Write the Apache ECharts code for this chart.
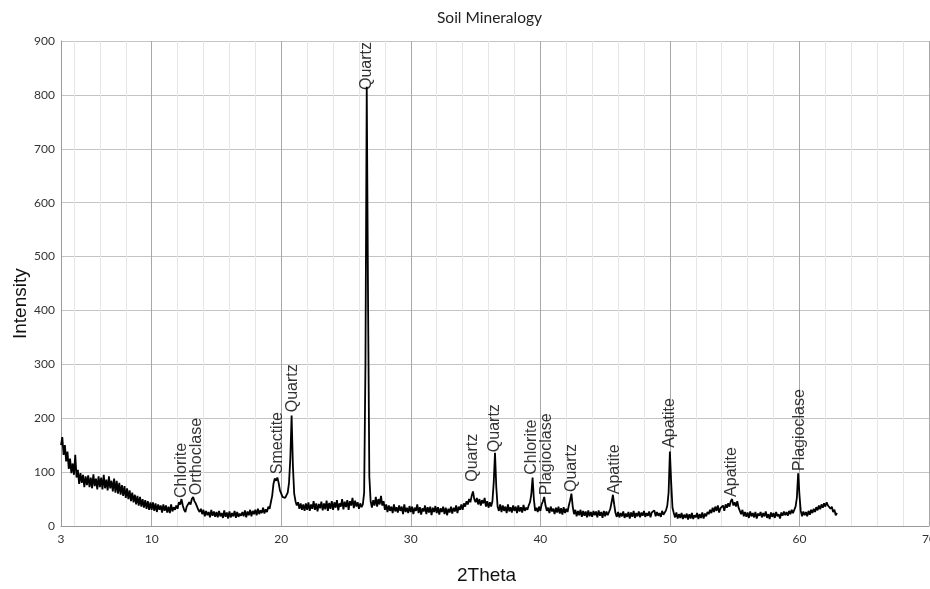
<!DOCTYPE html>
<html>
<head>
<meta charset="utf-8">
<script src="https://cdn.jsdelivr.net/npm/echarts@6/dist/echarts.min.js"></script>
<style>html,body{margin:0;padding:0;background:#fff;}#c{width:930px;height:589px;}</style>
</head>
<body>
<div id="c"></div>
<script>
// 2Theta sampling of the pattern (start, step in degrees)
var twoThetaStart = 3.0;
var twoThetaStep = 0.1;
// Intensity, 0.1 deg apart
var int03to10 = [
  150,165,132,150,120,138,106,125,98,116,
  95,132,90,104,78,98,80,95,72,92,
  76,94,72,90,70,96,74,88,68,92,
  72,90,68,95,70,86,66,92,70,84,
  64,88,62,84,60,80,58,76,56,74,
  52,70,50,66,46,62,44,58,40,56,
  38,54,36,50,34,48,32,46,30,44
];
var int10to20 = [
  30,44,28,42,26,40,30,38,25,40,
  28,38,25,36,24,40,27,35,30,38,
  32,44,40,50,38,30,26,36,34,44,
  40,50,54,46,42,36,30,26,32,22,
  30,18,28,20,26,16,30,19,27,17,
  26,16,28,18,24,15,29,17,25,14,
  27,16,24,18,28,15,26,17,23,19,
  26,18,29,16,27,20,30,18,28,22,
  30,20,32,22,29,24,34,23,31,26,
  36,32,44,56,78,88,84,90,80,66
];
var int20to30 = [
  60,54,57,52,55,62,80,125,205,112,
  60,46,38,44,32,42,30,40,28,42,
  30,44,28,40,32,46,30,42,27,41,
  33,45,29,42,31,47,28,43,32,46,
  30,44,34,48,29,42,36,50,31,45,
  35,48,30,46,38,52,33,47,36,44,
  32,42,35,40,62,300,815,420,92,46,
  34,48,38,54,36,50,40,56,38,46,
  30,40,26,38,28,36,24,40,27,35,
  25,38,28,36,22,40,26,34,24,37
];
var int30to40 = [
  26,36,22,34,28,40,24,35,21,33,
  27,38,22,35,25,36,20,34,26,37,
  24,35,21,33,26,36,22,34,20,32,
  25,36,23,34,27,38,24,36,30,40,
  30,42,36,46,40,50,44,56,64,50,
  44,52,40,50,38,48,42,52,36,46,
  34,44,36,46,80,136,72,36,28,40,
  26,38,28,36,24,40,27,35,25,38,
  28,36,24,38,27,35,25,39,28,34,
  30,38,44,58,90,50,28,34,26,36
];
var int40to50 = [
  28,40,46,54,38,28,34,24,36,27,
  32,22,34,25,36,23,33,21,35,24,
  32,26,38,48,60,36,22,30,18,28,
  20,30,17,28,19,27,16,29,18,26,
  17,28,20,27,16,29,19,26,15,28,
  18,27,20,26,32,44,58,40,24,17,
  26,16,24,18,27,15,23,17,26,14,
  25,17,28,15,24,18,27,16,25,19,
  28,17,24,19,27,16,25,22,29,18,
  26,19,24,17,28,21,25,29,38,62
];
var int50to60 = [
  138,80,34,24,16,25,14,22,15,24,
  13,21,15,23,12,22,14,24,13,20,
  16,24,13,22,15,25,14,23,18,26,
  22,30,24,34,26,36,28,38,25,33,
  30,38,28,40,34,42,36,46,50,38,
  44,36,46,34,28,22,30,18,26,17,
  25,15,27,18,24,16,26,14,23,19,
  26,16,24,18,27,15,22,13,25,17,
  24,15,26,18,22,14,25,19,27,20,
  26,19,28,22,30,24,30,36,52,98
];
var int60to63 = [
  58,28,18,27,20,26,18,28,21,30,
  24,32,26,35,29,38,31,40,34,42,
  36,44,38,40,32,36,26,30,20,24
];

// Peak annotations: mineral name, 2Theta, intensity at label foot
var peakNames = ['Chlorite','Orthoclase','Smectite','Quartz','Quartz','Quartz','Quartz','Chlorite','Plagioclase','Quartz','Apatite','Apatite','Apatite','Plagioclase'];
var peakTheta = [12.3,13.5,19.7,20.9,26.6,34.8,36.5,39.3,40.5,42.4,45.7,50.0,54.8,60.0];
var peakLabelY = [52,57,96,211,809,82,137,95,57,63,59,145,54,102];

// Axis ticks
var xLabelValues = [3,10,20,30,40,50,60,70];
var xMajorGrid = [10,20,30,40,50,60,70];
var xMinorGrid = [4,6,8,12,14,16,18,22,24,26,28,32,34,36,38,42,44,46,48,52,54,56,58,62,64,66,68];
var yMin = 0, yMax = 900, yStep = 100;

var intensity = [].concat(int03to10,int10to20,int20to30,int30to40,int40to50,int50to60,int60to63);
var pattern = intensity.map(function(v,i){
  return [Math.round((twoThetaStart + i*twoThetaStep)*10)/10, v];
});
var peaks = peakNames.map(function(n,i){ return {name:n, value:[peakTheta[i], peakLabelY[i]]}; });

var chart = echarts.init(document.getElementById('c'), null, {renderer:'canvas'});
chart.setOption({
  animation: false,
  backgroundColor: '#fff',
  title: {
    text: 'Soil Mineralogy',
    left: 432, top: 5,
    textStyle: {fontFamily: 'Lato', fontSize: 15.5, fontWeight: 'normal', color: '#222'}
  },
  grid: {left: 61, right: 1, top: 41, bottom: 63, containLabel: false, outerBoundsMode: 'none'},
  xAxis: [
    {
      type: 'value', min: 3, max: 70,
      axisLine: {show: false},
      axisTick: {show: false, customValues: xMinorGrid},
      axisLabel: {show: false},
      splitLine: {show: true, lineStyle: {color: '#e6e6e6', width: 1}}
    },
    {
      type: 'value', min: 3, max: 70, position: 'bottom',
      axisLine: {show: true, lineStyle: {color: '#9a9a9a', width: 1}},
      axisTick: {show: false, customValues: xMajorGrid},
      axisLabel: {
        show: true, customValues: xLabelValues, margin: 7,
        fontFamily: 'Lato', fontSize: 12, color: '#333',
        showMaxLabel: true, hideOverlap: false
      },
      splitLine: {show: true, lineStyle: {color: '#a8a8a8', width: 1}}
    }
  ],
  yAxis: {
    type: 'value', min: yMin, max: yMax, interval: yStep,
    axisLine: {show: true, lineStyle: {color: '#9a9a9a', width: 1}},
    axisTick: {show: false},
    axisLabel: {fontFamily: 'Lato', fontSize: 12, color: '#333', margin: 6},
    splitLine: {show: true, lineStyle: {color: '#c4c4c4', width: 1}}
  },
  graphic: [
    {type: 'text', left: 457, top: 566, style: {text: '2Theta', font: '19px "Liberation Sans"', fill: '#111'}},
    {type: 'text', x: 11, y: 339, rotation: Math.PI/2, style: {text: 'Intensity', font: '19px "Liberation Sans"', fill: '#111'}}
  ],
  series: [
    {
      type: 'line', xAxisIndex: 1, data: pattern,
      showSymbol: false, symbol: 'none',
      lineStyle: {color: '#000', width: 1.8},
      z: 3
    },
    {
      type: 'scatter', xAxisIndex: 1, data: peaks,
      symbolSize: 2, itemStyle: {color: 'rgba(0,0,0,0)'},
      label: {
        show: true, formatter: '{b}', rotate: 90,
        position: 'inside', align: 'left', verticalAlign: 'middle',
        fontFamily: 'Liberation Sans', fontSize: 16, color: '#000'
      },
      z: 4
    }
  ]
});
</script>
</body>
</html>
